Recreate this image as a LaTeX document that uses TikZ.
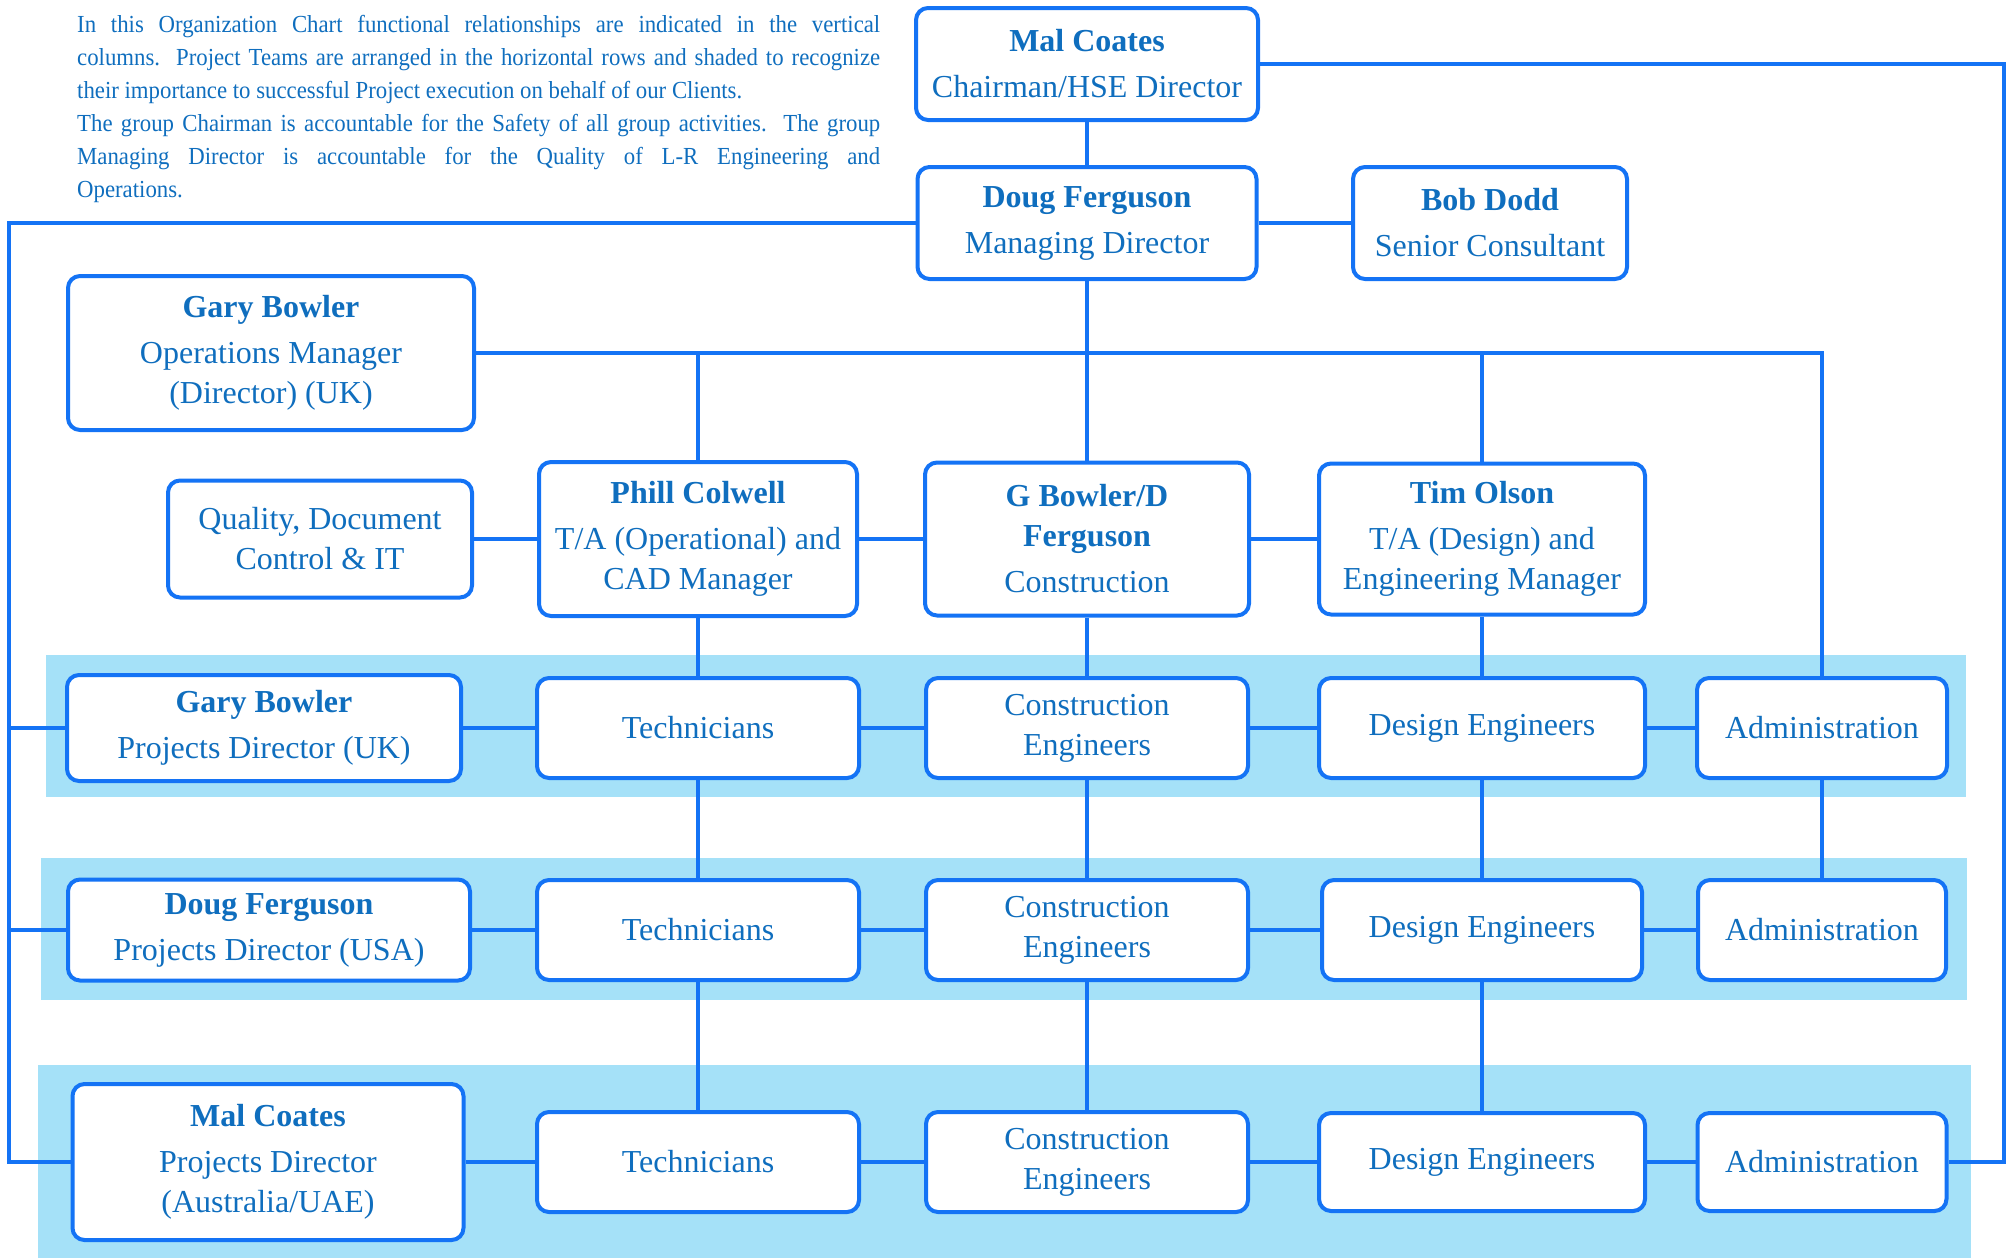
\documentclass[tikz,border=0pt]{standalone}
\usepackage{fontspec}
\setmainfont{Liberation Serif}
\newfontfamily\parafont[FakeStretch=0.93]{Liberation Serif}
\definecolor{lineblue}{HTML}{1473F5}
\definecolor{textblue}{HTML}{0F6EBE}
\definecolor{bandblue}{HTML}{A5E1F8}
\tikzset{
  box/.style={draw=lineblue, line width=4pt, rounded corners=12pt, fill=white,
    align=center, text=textblue, inner sep=0pt, font=\fontsize{32}{40}\selectfont},
  conn/.style={draw=lineblue, line width=4pt},
  band/.style={fill=bandblue},
}
\begin{document}
\begin{tikzpicture}[x=1pt,y=-1pt]
\useasboundingbox (0,0) rectangle (2007,1258);
% bands
\fill[band] (46,655) rectangle (1966,797);
\fill[band] (41,858) rectangle (1967,1000);
\fill[band] (38,1065) rectangle (1971,1258);
% paragraph
\node[anchor=north west, text width=803pt, align=justify, inner sep=0pt, text=textblue,
  font=\parafont\fontsize{24.5}{33}\selectfont] (para) at (77,15)
  {\hyphenpenalty=10000\exhyphenpenalty=10000\emergencystretch=40pt\hfuzz=30pt\relax
  In this Organization Chart functional relationships are indicated in the vertical\linebreak{} columns.\ \ Project Teams are arranged in the horizontal rows and shaded to recognize\linebreak{} their importance to successful Project execution on behalf of our Clients.\par
  The group Chairman is accountable for the Safety of all group activities.\ \ The group\linebreak{} Managing Director is accountable for the Quality of L-R Engineering and\linebreak{} Operations.};
% top boxes
\node[box, minimum width=342pt, minimum height=112pt] (mc) at (1087,64) {\textbf{Mal Coates}\\[6pt]Chairman/HSE Director};
\node[box, minimum width=339pt, minimum height=112pt] (md) at (1087,223) {\textbf{Doug Ferguson}\\[6pt]Managing Director};
\node[box, minimum width=274pt, minimum height=112pt] (bd) at (1490,223) {\textbf{Bob Dodd}\\[6pt]Senior Consultant};
\node[box, minimum width=406pt, minimum height=154pt] (gbo) at (271,353) {\textbf{Gary Bowler}\\[6pt]Operations Manager\\(Director) (UK)};
\node[box, minimum width=304pt, minimum height=117pt] (qd) at (320,539) {Quality, Document\\Control \& IT};
\node[box, minimum width=318pt, minimum height=154pt] (pc) at (698,539) {\textbf{Phill Colwell}\\[6pt]T/A (Operational) and\\CAD Manager};
\node[box, minimum width=324pt, minimum height=153pt] (gbd) at (1087,539) {\textbf{G Bowler/D}\\\textbf{Ferguson}\\[6pt]Construction};
\node[box, minimum width=326pt, minimum height=151pt] (to) at (1482,539) {\textbf{Tim Olson}\\[6pt]T/A (Design) and\\Engineering Manager};
% row 1
\node[box, minimum width=394pt, minimum height=106pt] (pd1) at (264,728) {\textbf{Gary Bowler}\\[6pt]Projects Director (UK)};
\node[box, minimum width=322pt, minimum height=100pt] (t1) at (698,728) {Technicians};
\node[box, minimum width=322pt, minimum height=100pt] (c1) at (1087,728) {Construction\\Engineers};
\node[box, minimum width=326pt, minimum height=100pt] (d1) at (1482,728) {Design Engineers};
\node[box, minimum width=250pt, minimum height=100pt] (a1) at (1822,728) {Administration};
% row 2
\node[box, minimum width=402pt, minimum height=101pt] (pd2) at (269,930) {\textbf{Doug Ferguson}\\[6pt]Projects Director (USA)};
\node[box, minimum width=322pt, minimum height=100pt] (t2) at (698,930) {Technicians};
\node[box, minimum width=322pt, minimum height=100pt] (c2) at (1087,930) {Construction\\Engineers};
\node[box, minimum width=320pt, minimum height=100pt] (d2) at (1482,930) {Design Engineers};
\node[box, minimum width=248pt, minimum height=100pt] (a2) at (1822,930) {Administration};
% row 3
\node[box, minimum width=391pt, minimum height=156pt] (pd3) at (268,1162) {\textbf{Mal Coates}\\[6pt]Projects Director\\(Australia/UAE)};
\node[box, minimum width=322pt, minimum height=100pt] (t3) at (698,1162) {Technicians};
\node[box, minimum width=322pt, minimum height=100pt] (c3) at (1087,1162) {Construction\\Engineers};
\node[box, minimum width=326pt, minimum height=98pt] (d3) at (1482,1162) {Design Engineers};
\node[box, minimum width=249pt, minimum height=98pt] (a3) at (1822,1162) {Administration};
% guide coordinates
\coordinate (Lx) at (9,0);
\coordinate (Rx) at (2004,0);
% connectors
\draw[conn] (mc.south) -- (md.north);
\draw[conn] (md.east) -- (bd.west);
\draw[conn] (md.south) -- (gbd.north);
\draw[conn] (gbo.east) -| (a1.north);
\draw[conn] (pc.north) -- (pc.north |- gbo.east);
\draw[conn] (to.north) -- (to.north |- gbo.east);
\draw[conn] (qd.east) -- (pc.west);
\draw[conn] (pc.east) -- (gbd.west);
\draw[conn] (gbd.east) -- (to.west);
% left and right lines
\draw[conn] (md.west) -| (Lx |- pd3.west) -- (pd3.west);
\draw[conn] (Lx |- pd1.west) -- (pd1.west);
\draw[conn] (Lx |- pd2.west) -- (pd2.west);
\draw[conn] (mc.east) -| (Rx |- a3.east) -- (a3.east);
% columns
\draw[conn] (pc.south) -- (t1.north);
\draw[conn] (t1.south) -- (t2.north);
\draw[conn] (t2.south) -- (t3.north);
\draw[conn] (gbd.south) -- (c1.north);
\draw[conn] (c1.south) -- (c2.north);
\draw[conn] (c2.south) -- (c3.north);
\draw[conn] (to.south) -- (d1.north);
\draw[conn] (d1.south) -- (d2.north);
\draw[conn] (d2.south) -- (d3.north);
\draw[conn] (a1.south) -- (a2.north);
% rows
\draw[conn] (pd1.east) -- (t1.west);
\draw[conn] (t1.east) -- (c1.west);
\draw[conn] (c1.east) -- (d1.west);
\draw[conn] (d1.east) -- (a1.west);
\draw[conn] (pd2.east) -- (t2.west);
\draw[conn] (t2.east) -- (c2.west);
\draw[conn] (c2.east) -- (d2.west);
\draw[conn] (d2.east) -- (a2.west);
\draw[conn] (pd3.east) -- (t3.west);
\draw[conn] (t3.east) -- (c3.west);
\draw[conn] (c3.east) -- (d3.west);
\draw[conn] (d3.east) -- (a3.west);
\end{tikzpicture}
\end{document}
